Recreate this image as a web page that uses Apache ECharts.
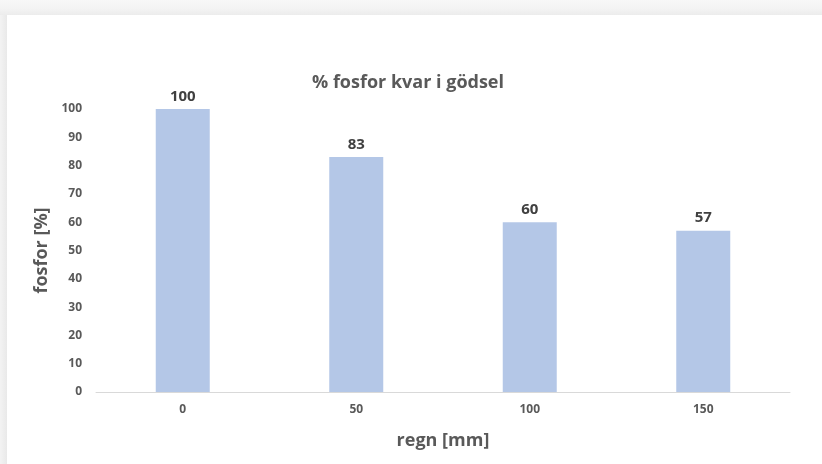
<!DOCTYPE html>
<html>
<head>
<meta charset="utf-8">
<style>
  html, body { margin: 0; padding: 0; background: #ffffff; }
  #chart { width: 822px; height: 464px; }
</style>
<script src="https://cdn.jsdelivr.net/npm/echarts@6/dist/echarts.min.js"></script>
</head>
<body>
<div id="chart"></div>
<script>
// Rainfall amounts (mm) on the category axis
const categories = ['0', '50', '100', '150'];
// Phosphorus remaining in the manure (%)
const phosphorus = [100, 83, 60, 57];
// Value-axis range and step
const yMin = 0;
const yMax = 100;
const yStep = 10;

const FONT = '"Open Sans", "Noto Sans", sans-serif';

const chart = echarts.init(document.getElementById('chart'));
chart.setOption({
  backgroundColor: '#ffffff',
  animation: false,
  grid: { left: 96, right: 32, top: 109, bottom: 72, containLabel: false },
  graphic: [
    // soft frame along the top and left edges
    { type: 'rect', left: 0, top: 0, shape: { width: 822, height: 15 },
      style: { fill: new echarts.graphic.LinearGradient(0, 0, 0, 1, [
        { offset: 0, color: '#f8f8f8' }, { offset: 0.6, color: '#f3f3f3' }, { offset: 1, color: '#ececec' }]) },
      silent: true },
    { type: 'rect', left: 0, top: 15, shape: { width: 7, height: 449 },
      style: { fill: new echarts.graphic.LinearGradient(0, 0, 1, 0, [
        { offset: 0, color: '#f3f3f3' }, { offset: 1, color: '#e9e9e9' }]) },
      silent: true },
    { type: 'text', x: 408, y: 83,
      style: { text: '% fosfor kvar i gödsel', font: 'bold 18px ' + FONT, fill: '#595959',
               textAlign: 'center', textVerticalAlign: 'middle' } }
  ],
  xAxis: {
    type: 'category',
    data: categories,
    name: 'regn [mm]',
    nameLocation: 'middle',
    nameGap: 40,
    nameTextStyle: { fontFamily: FONT, fontSize: 18, fontWeight: 'bold', color: '#595959' },
    axisLine: { lineStyle: { color: '#d9d9d9', width: 1 } },
    axisTick: { show: false },
    axisLabel: { fontFamily: FONT, fontSize: 12, fontWeight: 'bold', color: '#595959', margin: 12 }
  },
  yAxis: {
    type: 'value',
    min: yMin,
    max: yMax,
    interval: yStep,
    name: 'fosfor [%]',
    nameLocation: 'middle',
    nameGap: 39,
    nameRotate: 90,
    nameTextStyle: { fontFamily: FONT, fontSize: 18, fontWeight: 'bold', color: '#595959' },
    axisLine: { show: false },
    axisTick: { show: false },
    splitLine: { show: false },
    axisLabel: { fontFamily: FONT, fontSize: 12, fontWeight: 'bold', color: '#595959', margin: 14 }
  },
  series: [{
    type: 'bar',
    data: phosphorus,
    barWidth: 54,
    itemStyle: { color: '#b4c7e7' },
    label: {
      show: true,
      position: 'top',
      distance: 5,
      fontFamily: FONT,
      fontSize: 15,
      fontWeight: 'bold',
      color: '#404040'
    }
  }]
});
</script>
</body>
</html>
